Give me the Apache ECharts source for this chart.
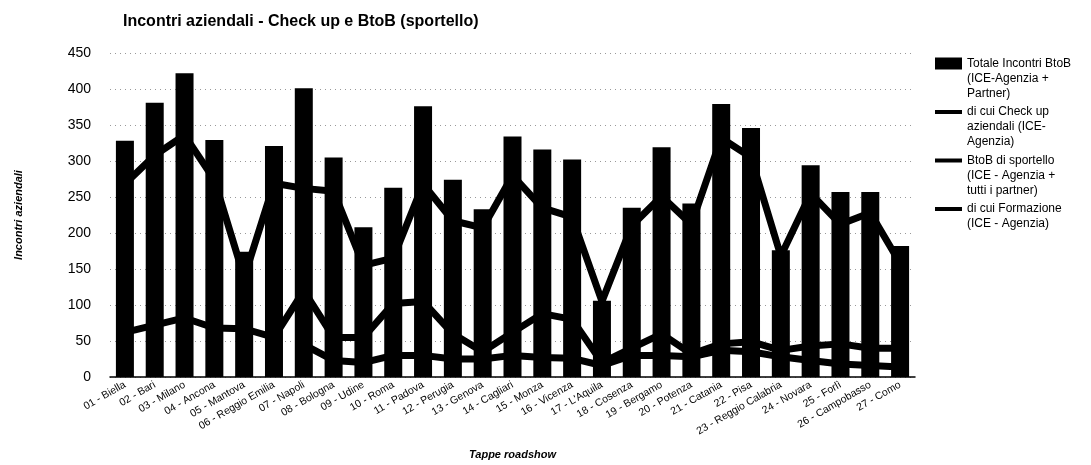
<!DOCTYPE html>
<html>
<head>
<meta charset="utf-8">
<script src="https://cdn.jsdelivr.net/npm/echarts@6/dist/echarts.min.js"></script>
<style>
    html, body { margin: 0; padding: 0; background: #fff; }
    #chart { width: 1091px; height: 465px; }
</style>
</head>
<body>
<div id="chart"></div>
<script>
// Incontri aziendali

var tappe = [
    '01 - Biella', '02 - Bari', '03 - Milano', '04 - Ancona', '05 - Mantova',
    '06 - Reggio Emilia', '07 - Napoli', '08 - Bologna', '09 - Udine', '10 - Roma',
    '11 - Padova', '12 - Perugia', '13 - Genova', '14 - Cagliari', '15 - Monza',
    '16 - Vicenza', "17 - L'Aquila", '18 - Cosenza', '19 - Bergamo', '20 - Potenza',
    '21 - Catania', '22 - Pisa', '23 - Reggio Calabria', '24 - Novara', '25 - Forlì',
    '26 - Campobasso', '27 - Como'
]

var totale_btob = [328, 381, 422, 329, 174, 321, 401, 305, 208, 263, 376, 274, 233, 334, 316, 302, 106, 235, 319, 241, 379, 346, 176, 294, 257, 257, 182]
var check_up = [268, 308, 336, 274, 138, 269, 262, 258, 155, 165, 268, 217, 207, 280, 235, 222, 105, 210, 251, 212, 332, 305, 168, 255, 212, 228, 158]
var btob_sportello = [62, 72, 82, 68, 67, 55, 120, 55, 55, 102, 105, 60, 35, 62, 88, 80, 20, 40, 60, 32, 46, 49, 37, 43, 46, 40, 40]
var formazione = [null, null, null, null, null, null, 45, 23, 20, 30, 30, 25, 25, 30, 27, 26, 16, 30, 30, 28, 37, 35, 28, 23, 18, 16, 14]

var nomi_serie = [
    'Totale Incontri BtoB (ICE-Agenzia + Partner)',
    'di cui Check up aziendali (ICE-Agenzia)',
    'BtoB di sportello (ICE - Agenzia + tutti i partner)',
    'di cui Formazione (ICE - Agenzia)'
]
// testo della legenda, su piu' righe come nell'originale
var testo_legenda = {}
testo_legenda[nomi_serie[0]] = 'Totale Incontri BtoB\n(ICE-Agenzia +\nPartner)'
testo_legenda[nomi_serie[1]] = 'di cui Check up\naziendali (ICE-\nAgenzia)'
testo_legenda[nomi_serie[2]] = 'BtoB di sportello\n(ICE - Agenzia +\ntutti i partner)'
testo_legenda[nomi_serie[3]] = 'di cui Formazione\n(ICE - Agenzia)\n'

// icone: box 27x45 con il simbolo in alto, allineato alla prima riga
var icona_barra = 'path://M0,0 M27,45 M0,1.5H27V13.5H0Z'
var icona_linea = 'path://M0,0 M27,45 M0,5.5H27V9.5H0Z'

var font = 'Arial, "Liberation Sans", sans-serif'

var chart = echarts.init(document.getElementById('chart'), null, {renderer: 'canvas'});

function serie_linea(nome, dati) {
    return {
        name: nome,
        type: 'line',
        data: dati,
        showSymbol: false,
        symbol: 'none',
        z: 3,
        connectNulls: false,
        itemStyle: {color: '#000'},
        lineStyle: {color: '#000', width: 7}
    }
}

var option = {
    animation: false,
    backgroundColor: '#fff',
    title: {
        text: 'Incontri aziendali - Check up e BtoB (sportello)',
        left: 118,
        top: 9,
        textStyle: {fontFamily: font, fontSize: 16, fontWeight: 'bold', color: '#000'}
    },
    legend: {
        orient: 'vertical',
        left: 930,
        top: 51,
        itemWidth: 27,
        itemHeight: 45,
        itemGap: 3.5,
        symbolKeepAspect: false,
        selectedMode: false,
        data: [
            {name: nomi_serie[0], icon: icona_barra},
            {name: nomi_serie[1], icon: icona_linea},
            {name: nomi_serie[2], icon: icona_linea},
            {name: nomi_serie[3], icon: icona_linea}
        ],
        formatter: function (name) {
            return testo_legenda[name]
        },
        textStyle: {fontFamily: font, fontSize: 12, lineHeight: 15, color: '#000'}
    },
    grid: {
        left: 110,
        right: 176,
        top: 53,
        bottom: 82
    },
    xAxis: {
        type: 'category',
        data: tappe,
        name: 'Tappe roadshow',
        nameLocation: 'middle',
        nameGap: 72,
        nameTextStyle: {fontFamily: font, fontSize: 11, fontWeight: 'bold', fontStyle: 'italic', color: '#000'},
        axisLine: {lineStyle: {color: '#000', width: 1.5}},
        axisTick: {show: false},
        axisLabel: {
            interval: 0,
            rotate: 30,
            margin: 7,
            fontFamily: font,
            fontSize: 10.5,
            color: '#000'
        }
    },
    yAxis: {
        type: 'value',
        min: 0,
        max: 450,
        interval: 50,
        name: 'Incontri aziendali',
        nameLocation: 'middle',
        nameRotate: 90,
        nameGap: 86,
        nameTextStyle: {fontFamily: font, fontSize: 11, fontWeight: 'bold', fontStyle: 'italic', color: '#000'},
        axisLine: {show: false},
        axisTick: {show: false},
        axisLabel: {margin: 19, fontFamily: font, fontSize: 14, color: '#000'},
        splitLine: {lineStyle: {color: '#999', type: [1, 4], width: 1}}
    },
    series: [
        {
            name: nomi_serie[0],
            type: 'bar',
            data: totale_btob,
            barWidth: 18,
            z: 2,
            itemStyle: {color: '#000'}
        },
        serie_linea(nomi_serie[1], check_up),
        serie_linea(nomi_serie[2], btob_sportello),
        serie_linea(nomi_serie[3], formazione)
    ]
};
chart.setOption(option);
</script>
</body>
</html>
